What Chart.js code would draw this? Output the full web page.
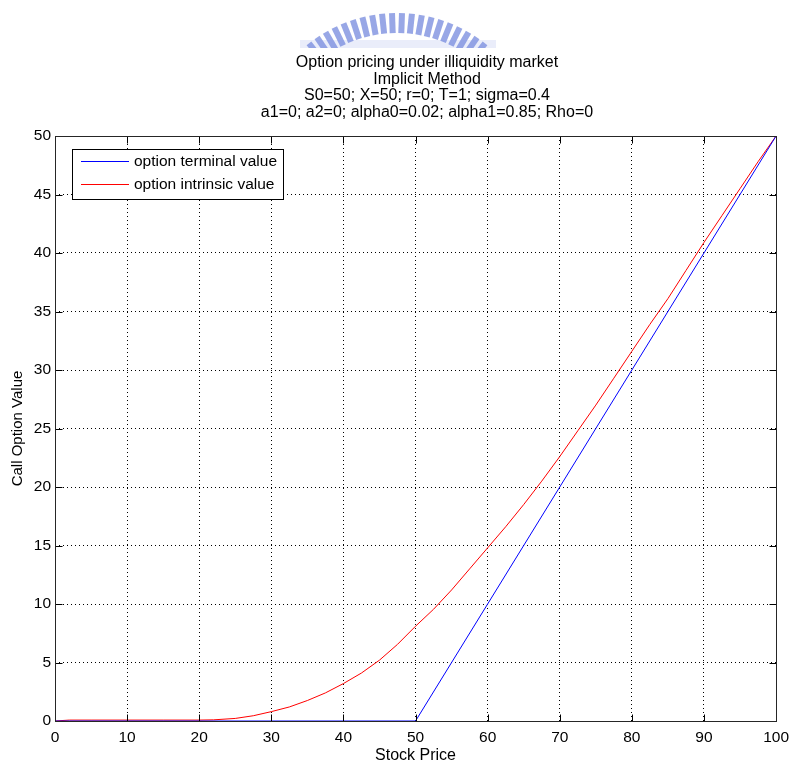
<!DOCTYPE html>
<html>
<head>
<meta charset="utf-8">
<script src="https://cdn.jsdelivr.net/npm/chart.js@4.4.1/dist/chart.umd.min.js"></script>
<style>
  html, body { margin: 0; padding: 0; background: #fff; }
  canvas { display: block; }
</style>
</head>
<body>
<canvas id="chart" width="796" height="765"></canvas>
<script>
/* Option pricing under illiquidity market — MATLAB style line plot */

/* ── Data ─────────────────────────────────────────────────────── */
var titleLines = [
  'Option pricing under illiquidity market',
  'Implicit Method',
  'S0=50; X=50; r=0; T=1; sigma=0.4',
  'a1=0; a2=0; alpha0=0.02; alpha1=0.85; Rho=0'
];

var terminalPrice = [0, 50, 100];
var terminalValue = [0, 0, 50];

var stockPrice = [0, 2, 5, 10, 15, 20, 22, 25, 27.5, 30, 32.5, 35, 37.5, 40, 42.5, 45, 47.5,
  50, 52.5, 55, 57.5, 60, 62.5, 65, 67.5, 70, 72.5, 75, 77.5, 80, 82.5, 85, 87.5, 90, 92.5,
  95, 97.5, 100];
var intrinsicValue = [0, 0.08, 0.08, 0.08, 0.08, 0.08, 0.1, 0.22, 0.45, 0.8, 1.2, 1.75, 2.4,
  3.2, 4.1, 5.2, 6.55, 8.1, 9.55, 11.2, 13.0, 14.8, 16.6, 18.5, 20.5, 22.6, 24.8, 27.0, 29.3,
  31.6, 33.9, 36.1, 38.5, 40.9, 43.2, 45.5, 47.8, 50];

var xTicks = [0, 10, 20, 30, 40, 50, 60, 70, 80, 90, 100];
var yTicks = [0, 5, 10, 15, 20, 25, 30, 35, 40, 45, 50];

var FONT = "'Liberation Sans', Arial, Helvetica, sans-serif";

function toPoints(xs, ys) {
  return xs.map(function(x, i) { return { x: x, y: ys[i] }; });
}

/* ── Plugin: background, watermark, titles, box, inner ticks, legend ── */
var matlabFrame = {
  id: 'matlabFrame',
  beforeDraw: function(chart) {
    var ctx = chart.ctx;
    ctx.save();
    ctx.fillStyle = '#fff';
    ctx.fillRect(0, 0, chart.width, chart.height);

    // faded seal watermark at the top edge
    ctx.beginPath();
    ctx.rect(0, 0, chart.width, 48);
    ctx.clip();
    ctx.fillStyle = 'rgba(185,196,238,0.3)';
    ctx.fillRect(300, 40, 196, 8);
    ctx.fillStyle = 'rgba(118,138,222,0.75)';
    for (var i = 0; i < 20; i++) {
      var a = (-38 + i * 4) * Math.PI / 180;
      ctx.save();
      ctx.translate(397, 156);
      ctx.rotate(a);
      ctx.fillRect(-3, -143, 6, 20);
      ctx.restore();
    }
    ctx.restore();

    // titles
    ctx.save();
    ctx.fillStyle = '#000';
    ctx.font = '16px ' + FONT;
    ctx.textAlign = 'center';
    ctx.textBaseline = 'alphabetic';
    var base = [67, 83.5, 100, 116.5];
    titleLines.forEach(function(t, i) { ctx.fillText(t, 427, base[i]); });
    ctx.restore();
  },
  afterDraw: function(chart) {
    var ctx = chart.ctx;
    var area = chart.chartArea;
    var xs = chart.scales.x, ys = chart.scales.y;
    var L = Math.round(area.left) + 0.5, R = Math.round(area.right) + 0.5;
    var T = Math.round(area.top) + 0.5, B = Math.round(area.bottom) + 0.5;
    var tl = 7;

    ctx.save();
    ctx.strokeStyle = '#000';
    ctx.lineWidth = 1;
    ctx.beginPath();
    xTicks.forEach(function(v) {
      var px = Math.round(xs.getPixelForValue(v)) + 0.5;
      ctx.moveTo(px, B); ctx.lineTo(px, B - tl);
      ctx.moveTo(px, T); ctx.lineTo(px, T + tl);
    });
    yTicks.forEach(function(v) {
      var py = Math.round(ys.getPixelForValue(v)) + 0.5;
      ctx.moveTo(L, py); ctx.lineTo(L + tl, py);
      ctx.moveTo(R, py); ctx.lineTo(R - tl, py);
    });
    ctx.stroke();
    ctx.strokeStyle = '#262626';
    ctx.strokeRect(L, T, R - L, B - T);

    // legend box, upper left inside the axes
    var bx = 72.5, by = 149.5, bw = 211, bh = 50;
    ctx.fillStyle = '#fff';
    ctx.fillRect(bx, by, bw, bh);
    ctx.strokeStyle = '#000';
    ctx.strokeRect(bx, by, bw, bh);
    ctx.font = '15.5px ' + FONT;
    ctx.textAlign = 'left';
    ctx.textBaseline = 'middle';
    chart.data.datasets.forEach(function(ds, i) {
      var y = 161.5 + i * 23;
      ctx.strokeStyle = ds.borderColor;
      ctx.beginPath();
      ctx.moveTo(81, y); ctx.lineTo(129, y);
      ctx.stroke();
      ctx.fillStyle = '#000';
      ctx.fillText(ds.label, 134, y);
    });
    ctx.restore();
  }
};

/* ── Chart ────────────────────────────────────────────────────── */
new Chart(document.getElementById('chart'), {
  type: 'line',
  data: {
    datasets: [{
      label: 'option terminal value',
      data: toPoints(terminalPrice, terminalValue),
      borderColor: '#0000ff',
      borderWidth: 1,
      pointRadius: 0,
      tension: 0
    }, {
      label: 'option intrinsic value',
      data: toPoints(stockPrice, intrinsicValue),
      borderColor: '#ff0000',
      borderWidth: 1,
      pointRadius: 0,
      tension: 0
    }]
  },
  options: {
    responsive: false,
    animation: false,
    layout: { padding: { top: 136, right: 19, bottom: 0, left: 0 } },
    plugins: {
      legend: { display: false },
      title: { display: false },
      tooltip: { enabled: false }
    },
    scales: {
      x: {
        type: 'linear',
        min: 0,
        max: 100,
        afterBuildTicks: function(s) { s.ticks = xTicks.map(function(v) { return { value: v }; }); },
        afterFit: function(s) { s.height = 44; },
        grid: { color: '#000', lineWidth: 1, drawTicks: false },
        border: { display: false, dash: [1, 3] },
        ticks: { color: '#000', padding: 7, maxRotation: 0, font: { family: FONT, size: 15.5 } },
        title: {
          display: true, text: 'Stock Price', color: '#000',
          font: { family: FONT, size: 16 }, padding: { top: 1, bottom: 0 }
        }
      },
      y: {
        type: 'linear',
        min: 0,
        max: 50,
        afterBuildTicks: function(s) { s.ticks = yTicks.map(function(v) { return { value: v }; }); },
        afterFit: function(s) { s.width = 55; },
        grid: { color: '#000', lineWidth: 1, drawTicks: false },
        border: { display: false, dash: [1, 3] },
        ticks: { color: '#000', padding: 4, font: { family: FONT, size: 15.5 } },
        title: {
          display: true, text: 'Call Option Value', color: '#000',
          font: { family: FONT, size: 15 }, padding: { top: 9, bottom: 0 }
        }
      }
    }
  },
  plugins: [matlabFrame]
});
</script>
</body>
</html>
